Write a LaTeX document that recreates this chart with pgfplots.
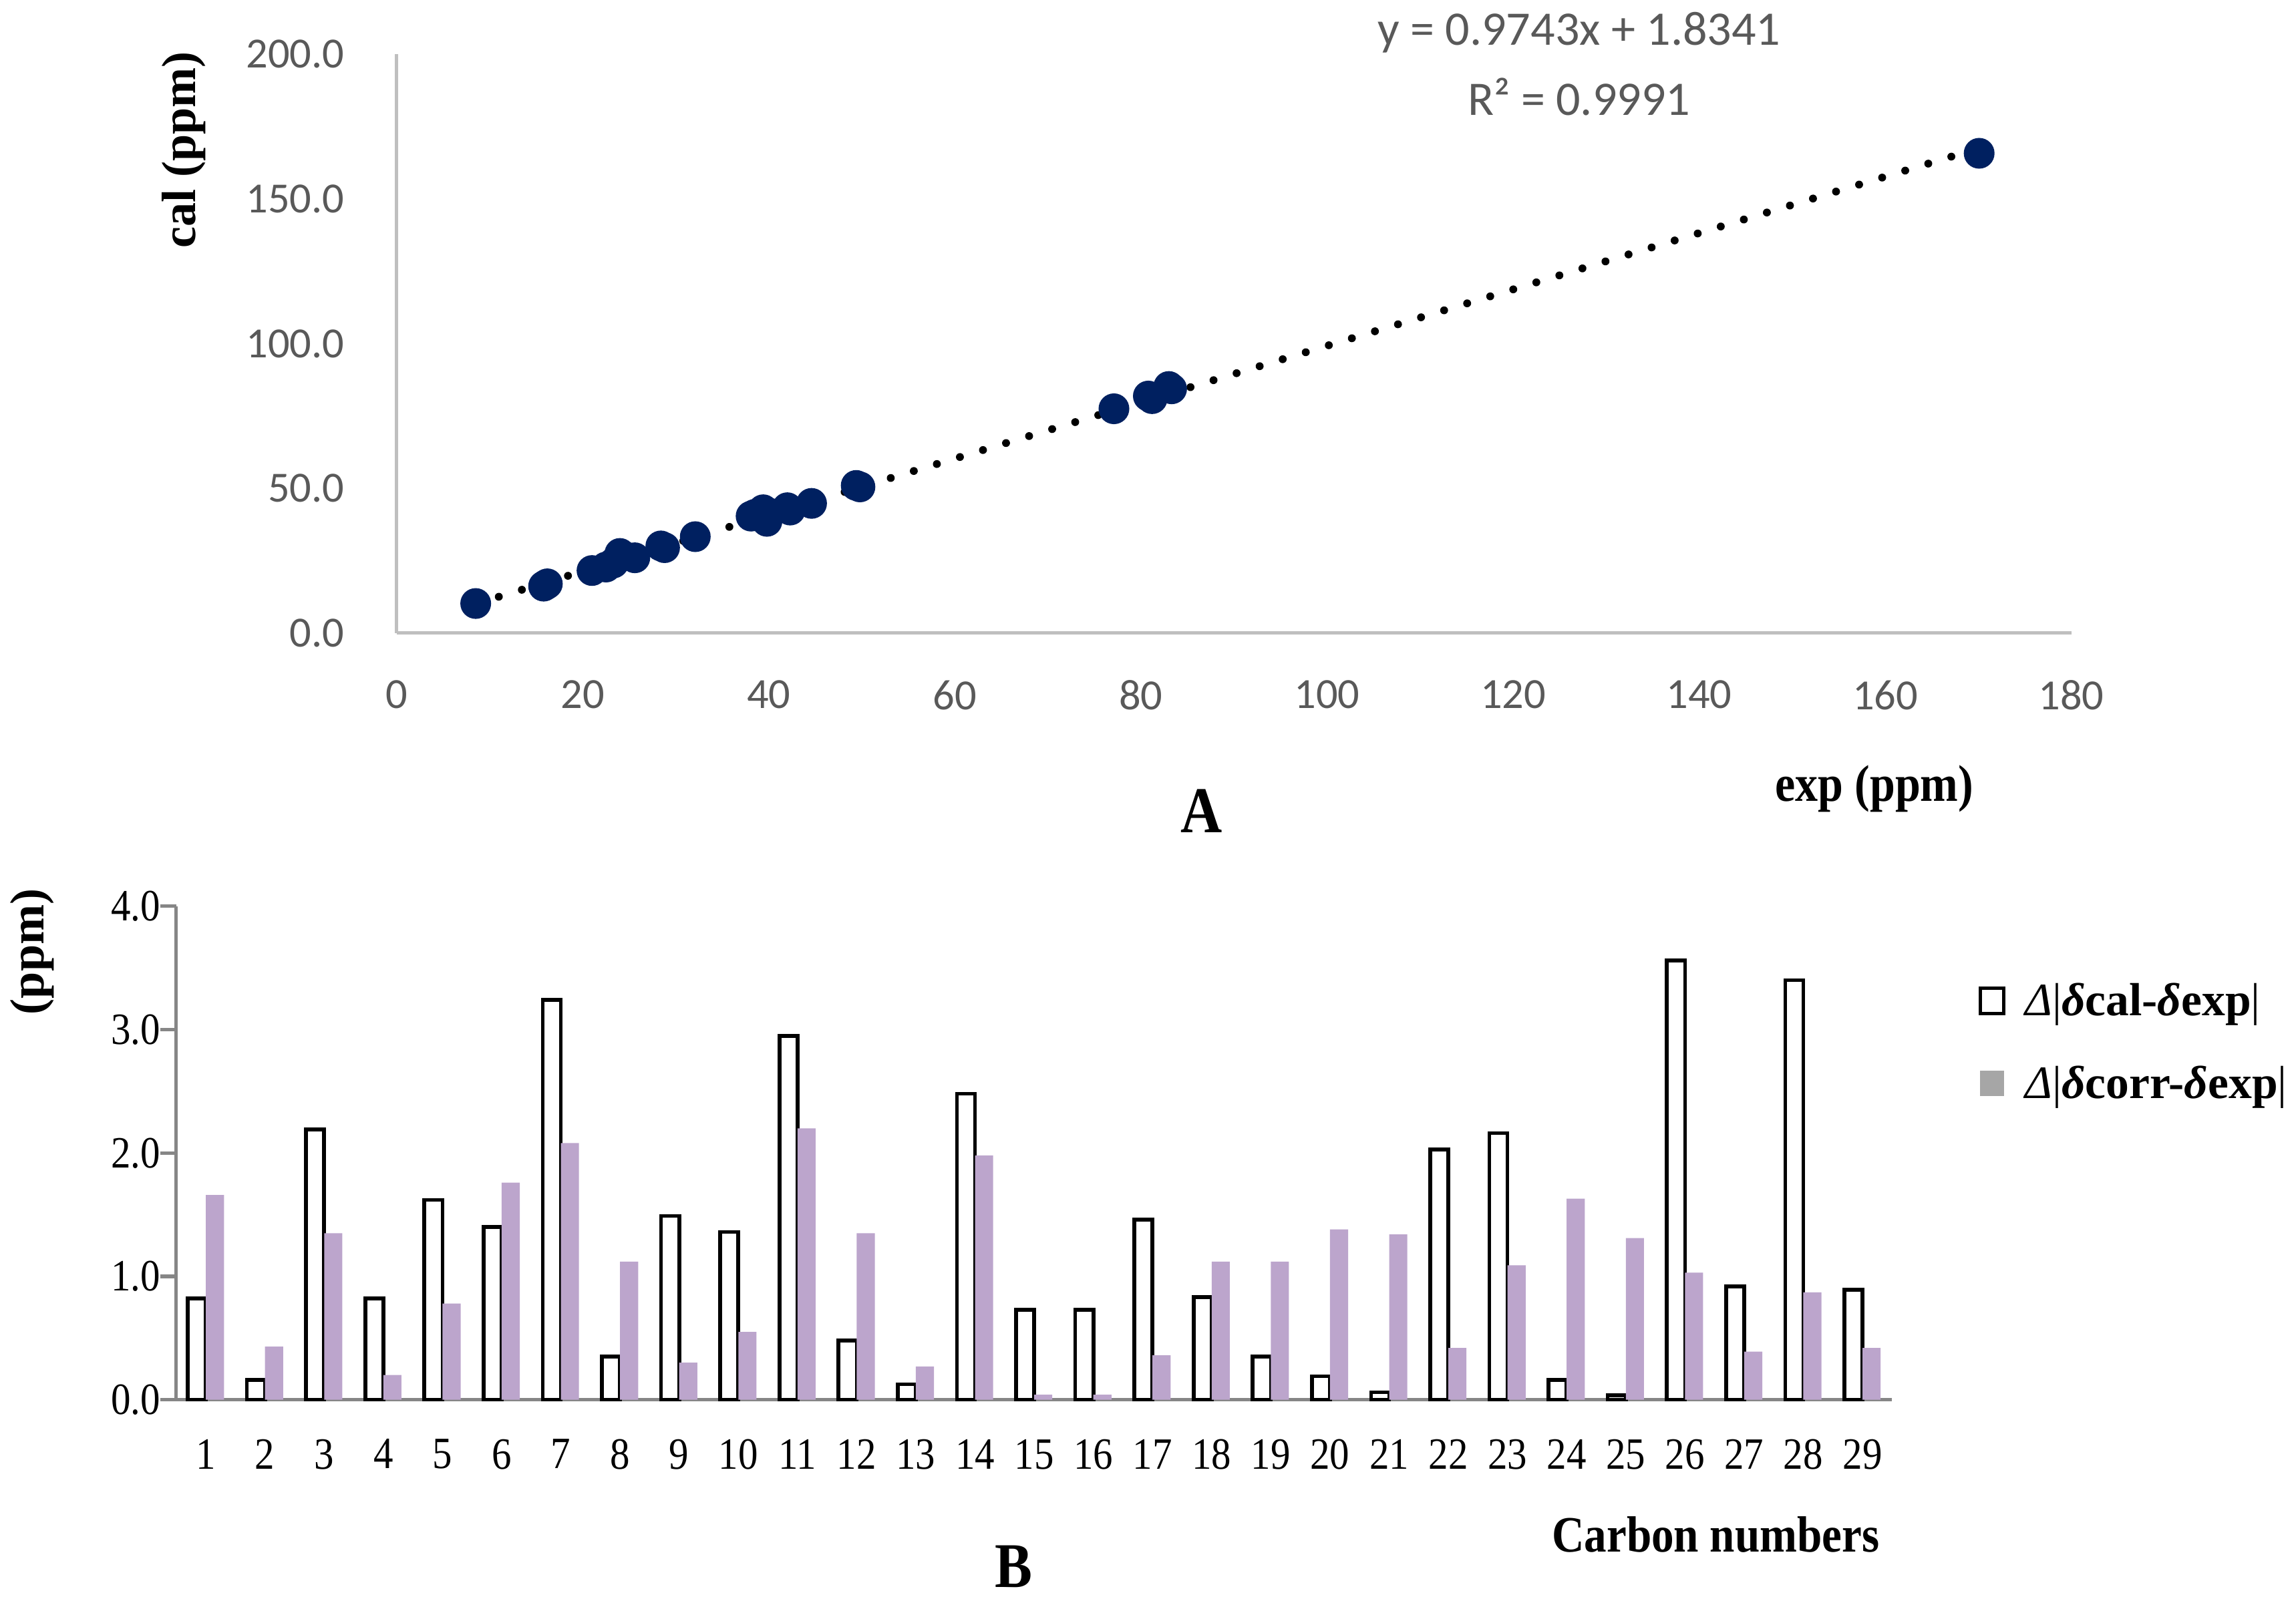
\documentclass[border=0pt]{standalone}
\usepackage{fontspec}
\setmainfont{Liberation Serif}
\newfontfamily\cond{Liberation Serif}[FakeStretch=0.88]
\newfontfamily\calib{Carlito}
\usepackage{pgfplots}
\pgfplotsset{compat=1.18}
\definecolor{navy}{HTML}{002060}
\definecolor{lav}{RGB}{188,165,204}
\definecolor{agray}{HTML}{BFBFBF}
\definecolor{tgray}{HTML}{595959}
\definecolor{bgray}{HTML}{868686}
\definecolor{leggray}{HTML}{A6A6A6}
\begin{document}
\begin{tikzpicture}
\path[use as bounding box] (0,0) rectangle (234.45mm,-163.5mm);
% ---------------- Panel A ----------------
\begin{axis}[
  at={(40.5mm,-64.65mm)}, anchor=south west,
  scale only axis, width=171mm, height=59.1mm,
  xmin=0, xmax=180, ymin=0, ymax=200,
  xtick={0,20,...,180}, ytick={0,50,...,200},
  axis x line*=bottom, axis y line*=left,
  axis line style={agray, line width=1pt},
  major tick length=0pt,
  /pgf/number format/assume math mode=true,
  tick label style={font=\calib\fontsize{12.5}{14}\selectfont, text=tgray},
  xticklabel style={yshift=-3.6mm},
  yticklabel style={xshift=-4.1mm, /pgf/number format/.cd, fixed, fixed zerofill, precision=1},
  clip=false,
]
\addplot[only marks, mark=*, mark size=1.5mm, mark options={fill=navy, draw=navy}] coordinates {
(8.5,10.2) (15.8,16.2) (16.2,17.0) (16.0,16.6) (21.0,21.6) (22.5,22.8) (23.3,24.2)
(24.0,27.5) (24.3,26.8) (25.6,26.0) (28.4,30.1) (28.8,29.5) (32.1,33.3)
(38.1,40.4) (38.5,41.0) (39.4,42.6) (39.8,38.6) (40.0,41.5) (42.0,43.3) (42.3,42.5)
(44.6,44.8) (49.4,51.0) (49.8,50.5) (77.1,77.5) (80.8,81.9) (81.2,81.0)
(83.0,85.2) (83.3,84.4) (170.1,165.8)
};
\addplot[black, line width=0.8mm, line cap=round, dash pattern=on 0.01mm off 2.45mm] coordinates {
(8.5,10.116) (170.1,167.56)
};
\end{axis}
\node[font=\calib\fontsize{14}{16}\selectfont, text=tgray] at (161.25mm,-3.3mm) {y = 0.9743x + 1.8341};
\node[font=\calib\fontsize{14}{16}\selectfont, text=tgray] at (161.25mm,-9.9mm) {R² = 0.9991};
\node[font=\bfseries\fontsize{14}{16}\selectfont, rotate=90] at (18.75mm,-15.3mm) {cal (ppm)};
\node[font=\cond\bfseries\fontsize{15}{16}\selectfont] at (191.4mm,-80.55mm) {exp (ppm)};
\node[font=\cond\bfseries\fontsize{19}{20}\selectfont, inner sep=0pt] at (122.7mm,-82.8mm) {A};
% ---------------- Panel B ----------------
\begin{axis}[
  at={(18mm,-142.95mm)}, anchor=south west,
  scale only axis, width=175.2mm, height=50.4mm,
  xmin=0.5, xmax=29.5, ymin=0, ymax=4,
  xtick={1,...,29}, ytick={0,1,...,4},
  minor xtick={0.5,1.5,...,29.5},
  axis x line*=bottom, axis y line*=left,
  axis line style={bgray, line width=1pt},
  tick align=outside,
  major tick length=1.6mm, minor tick length=1.3mm,
  xtick style={draw=none},
  ytick style={bgray, line width=1pt},
  minor x tick style={bgray, line width=0.9pt},
  /pgf/number format/assume math mode=true,
  tick label style={font=\cond\fontsize{13}{14}\selectfont},
  xticklabel style={yshift=-1.2mm},
  yticklabel style={xshift=1.2mm, /pgf/number format/.cd, fixed, fixed zerofill, precision=1},
  ybar=0pt, bar width=1.85mm,
  clip=false,
  legend style={draw=none, fill=none, at={(1.05,0.86)}, anchor=north west,
    font=\fontsize{13.5}{16}\selectfont, row sep=3.2mm, inner sep=0pt,
    cells={anchor=west},
    /tikz/every odd column/.append style={column sep=1.3mm}},
]
\addplot[draw=black, line width=1.1pt, fill=white,
  legend image code/.code={\draw[black, line width=1pt, fill=white] (0mm,-1.2mm) rectangle (2.4mm,1.4mm);}]
coordinates {
(1,0.82) (2,0.16) (3,2.19) (4,0.82) (5,1.62) (6,1.40) (7,3.24) (8,0.35) (9,1.49) (10,1.36)
(11,2.95) (12,0.48) (13,0.125) (14,2.48) (15,0.73) (16,0.73) (17,1.46) (18,0.83) (19,0.35) (20,0.19)
(21,0.06) (22,2.03) (23,2.16) (24,0.16) (25,0.035) (26,3.56) (27,0.92) (28,3.40) (29,0.89)
};
\addlegendentry{\textit{Δ}|\textbf{\textit{δ}cal-\textit{δ}exp}|}
\addplot[draw=none, fill=lav,
  legend image code/.code={\fill[leggray] (0mm,-1.2mm) rectangle (2.4mm,1.4mm);}]
coordinates {
(1,1.66) (2,0.43) (3,1.35) (4,0.20) (5,0.78) (6,1.76) (7,2.08) (8,1.12) (9,0.30) (10,0.55)
(11,2.20) (12,1.35) (13,0.27) (14,1.98) (15,0.04) (16,0.04) (17,0.36) (18,1.12) (19,1.12) (20,1.38)
(21,1.34) (22,0.42) (23,1.09) (24,1.63) (25,1.31) (26,1.03) (27,0.39) (28,0.87) (29,0.42)
};
\addlegendentry{\textit{Δ}|\textbf{\textit{δ}corr-\textit{δ}exp}|}
\end{axis}
\node[font=\bfseries\fontsize{14}{16}\selectfont, rotate=90] at (3.3mm,-97.2mm) {(ppm)};
\node[font=\cond\bfseries\fontsize{14.8}{16}\selectfont] at (175.2mm,-156.75mm) {Carbon numbers};
\node[font=\cond\bfseries\fontsize{18.5}{20}\selectfont, inner sep=0pt] at (103.5mm,-160.0mm) {B};
\end{tikzpicture}
\end{document}
